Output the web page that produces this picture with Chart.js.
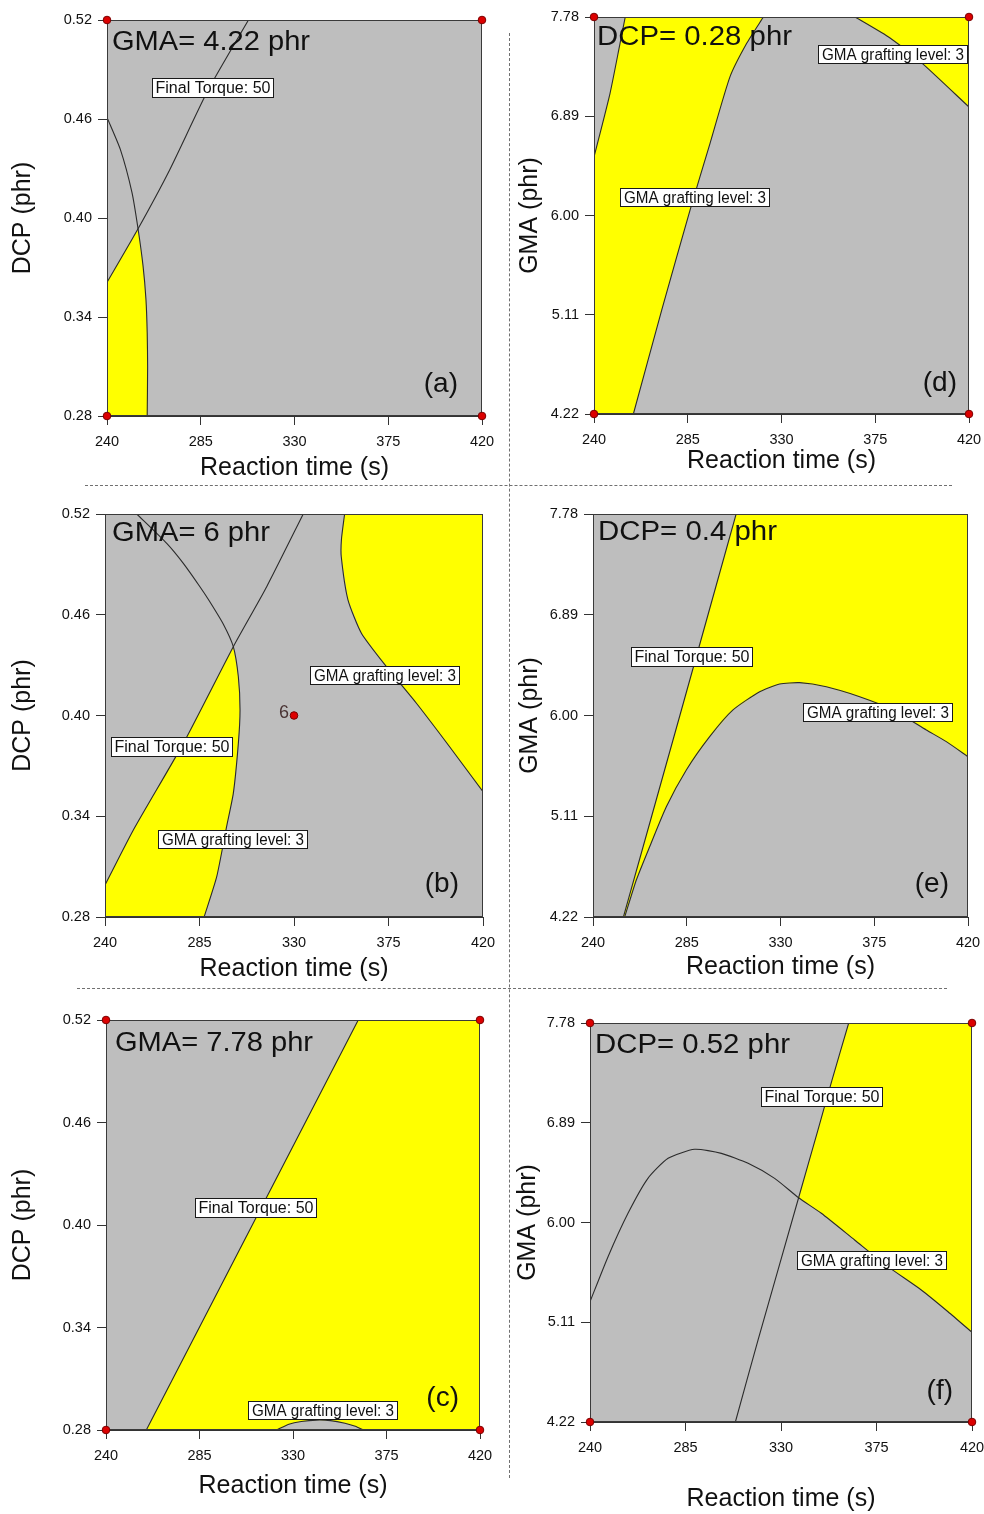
<!DOCTYPE html>
<html>
<head>
<meta charset="utf-8">
<title>Overlay plots</title>
<script src="https://cdn.jsdelivr.net/npm/chart.js@4.4.1/dist/chart.umd.min.js"></script>
<style>
  html, body { margin:0; padding:0; background:#fff; }
  #page { position:relative; width:984px; height:1514px; overflow:hidden; background:#fff; }
  #page canvas { position:absolute; }
  .dh { position:absolute; height:0; border-top:1px dashed #707070; }
  .dv { position:absolute; width:0; border-left:1px dashed #707070; }
</style>
</head>
<body>
<div id="page">
  <div class="dv" style="left:509px;top:33px;height:1445px"></div>
  <div class="dh" style="left:85px;top:485px;width:867px"></div>
  <div class="dh" style="left:77px;top:988px;width:870px"></div>
  <canvas id="pa"></canvas>
  <canvas id="pd"></canvas>
  <canvas id="pb"></canvas>
  <canvas id="pe"></canvas>
  <canvas id="pc"></canvas>
  <canvas id="pf"></canvas>
</div>
<script>
// ---------------- tick values / labels ----------------
const xTicks = [240, 285, 330, 375, 420];
const xTickLabels = ['240', '285', '330', '375', '420'];
const dcpTicks = [0.28, 0.34, 0.40, 0.46, 0.52];
const dcpTickLabels = ['0.28', '0.34', '0.40', '0.46', '0.52'];
const gmaTicks = [4.22, 5.11, 6.00, 6.89, 7.78];
const gmaTickLabels = ['4.22', '5.11', '6.00', '6.89', '7.78'];
const xTitle = 'Reaction time (s)';
const dcpTitle = 'DCP (phr)';
const gmaTitle = 'GMA (phr)';

const panelTitles = ['GMA= 4.22 phr', 'GMA= 6 phr', 'GMA= 7.78 phr', 'DCP= 0.28 phr', 'DCP= 0.4 phr', 'DCP= 0.52 phr'];
const panelTags = ['(a)', '(b)', '(c)', '(d)', '(e)', '(f)'];

// ---------------- (a) GMA = 4.22 ----------------
const aTorque = [[240, 0.361], [254.9, 0.3935], [270, 0.429], [288.7, 0.478], [307.9, 0.52]];
const aGraft = [[240, 0.461], [246.4, 0.4416], [252, 0.4154], [254.9, 0.3935], [257.3, 0.371], [258.7, 0.3507], [259.3, 0.3305], [259.5, 0.31], [259.3, 0.28]];
const aYellow = [[240, 0.28], [240, 0.361], [254.9, 0.3935], [257.3, 0.371], [258.7, 0.3507], [259.3, 0.3305], [259.5, 0.31], [259.3, 0.28]];
const aPoints = [[240, 0.28], [240, 0.52], [420, 0.28], [420, 0.52]];
const aLabels = [['Final Torque: 50', 290.6, 0.479]];

// ---------------- (b) GMA = 6 ----------------
const bTorque = [[240, 0.299], [253.5, 0.3318], [277.3, 0.3834], [301.1, 0.441], [317, 0.4767], [334.4, 0.52]];
const bGraftLeft = [[255.1, 0.52], [269.4, 0.5025], [277.3, 0.4906], [285.2, 0.4767], [289.7, 0.4682], [296.3, 0.4545], [301.1, 0.441], [303.5, 0.4231], [304.3, 0.4033], [303.5, 0.3834], [301.1, 0.3536], [297.9, 0.3338], [293.2, 0.304], [287.2, 0.28]];
const bGraftRight = [[354.1, 0.52], [352.6, 0.505], [352.5, 0.4947], [355.7, 0.4689], [362.1, 0.449], [374, 0.4291], [388.3, 0.4073], [404.1, 0.3814], [420, 0.3546]];
const bYellowLeft = [[240, 0.28], [240, 0.299], [253.5, 0.3318], [277.3, 0.3834], [301.1, 0.441], [303.5, 0.4231], [304.3, 0.4033], [303.5, 0.3834], [301.1, 0.3536], [297.9, 0.3338], [293.2, 0.304], [287.2, 0.28]];
const bYellowRight = [[354.1, 0.52], [352.6, 0.505], [352.5, 0.4947], [355.7, 0.4689], [362.1, 0.449], [374, 0.4291], [388.3, 0.4073], [404.1, 0.3814], [420, 0.3546], [420, 0.52]];
const bPoints = [[330, 0.40]];
const bPointNames = ['6'];
const bLabels = [['GMA grafting level: 3', 372.9, 0.4244], ['Final Torque: 50', 271.7, 0.3818], ['GMA grafting level: 3', 300.7, 0.3264]];

// ---------------- (c) GMA = 7.78 ----------------
const cTorque = [[259.4, 0.28], [311.9, 0.4035], [361.4, 0.52]];
const cYellow = [[259.4, 0.28], [361.4, 0.52], [420, 0.52], [420, 0.28]];
const cGraft = [[322, 0.28], [328, 0.2834], [334, 0.285], [341.3, 0.2858], [348, 0.2855], [355, 0.284], [360, 0.2822], [363.8, 0.28]];
const cPoints = [[240, 0.28], [240, 0.52], [420, 0.28], [420, 0.52]];
const cLabels = [['Final Torque: 50', 311.95, 0.41], ['GMA grafting level: 3', 343.96, 0.292]];

// ---------------- (d) DCP = 0.28 ----------------
const dBandLeft = [[240, 6.524], [247.7, 7.096], [252.5, 7.544], [255, 7.78]];
const dBandRight = [[258.9, 4.22], [272.5, 5.152], [286.1, 6.049], [295.7, 6.647], [305.3, 7.245], [313.3, 7.544], [321.3, 7.78]];
const dCorner = [[365.3, 7.78], [382.1, 7.592], [396.5, 7.382], [420, 6.973]];
const dYellowBand = [[240, 4.22], [258.9, 4.22], [272.5, 5.152], [286.1, 6.049], [295.7, 6.647], [305.3, 7.245], [313.3, 7.544], [321.3, 7.78], [255, 7.78], [252.5, 7.544], [247.7, 7.096], [240, 6.524]];
const dYellowCorner = [[365.3, 7.78], [382.1, 7.592], [396.5, 7.382], [420, 6.973], [420, 7.78]];
const dPoints = [[240, 4.22], [240, 7.78], [420, 4.22], [420, 7.78]];
const dLabels = [['GMA grafting level: 3', 383.3, 7.448], ['GMA grafting level: 3', 288.0, 6.166]];

// ---------------- (e) DCP = 0.4 ----------------
const eTorque = [[254.6, 4.22], [281.7, 6.0], [308.7, 7.78]];
const eGraft = [[255.2, 4.22], [260.8, 4.547], [267.2, 4.841], [275.2, 5.194], [284.8, 5.519], [296.0, 5.813], [307.2, 6.049], [320.0, 6.21], [329.6, 6.278], [339.2, 6.29], [352.0, 6.254], [368.0, 6.166], [384.0, 6.049], [400.0, 5.872], [409.6, 5.769], [420, 5.636]];
const eYellow = [[254.6, 4.22], [281.7, 6.0], [308.7, 7.78], [420, 7.78], [420, 5.636], [409.6, 5.769], [400.0, 5.872], [384.0, 6.049], [368.0, 6.166], [352.0, 6.254], [339.2, 6.29], [329.6, 6.278], [320.0, 6.21], [307.2, 6.049], [296.0, 5.813], [284.8, 5.519], [275.2, 5.194], [267.2, 4.841], [260.8, 4.547], [255.2, 4.22]];
const ePoints = [];
const eLabels = [['Final Torque: 50', 287.5, 6.517], ['GMA grafting level: 3', 376.6, 6.035]];

// ---------------- (f) DCP = 0.52 ----------------
const fTorque = [[308.5, 4.22], [319.2, 4.952], [338.3, 6.221], [347.4, 6.825], [354, 7.268], [361.9, 7.78]];
const fGraft = [[240, 5.293], [248.5, 5.695], [257.9, 6.082], [267.3, 6.394], [276.8, 6.573], [289.3, 6.653], [301.9, 6.617], [314.5, 6.528], [327.0, 6.394], [338.3, 6.221], [349.0, 6.082], [364.7, 5.844], [380.4, 5.606], [396.1, 5.398], [408.7, 5.204], [420, 5.02]];
const fYellow = [[338.3, 6.221], [347.4, 6.825], [354, 7.268], [361.9, 7.78], [420, 7.78], [420, 5.02], [408.7, 5.204], [396.1, 5.398], [380.4, 5.606], [364.7, 5.844], [349.0, 6.082]];
const fPoints = [[240, 4.22], [240, 7.78], [420, 4.22], [420, 7.78]];
const fLabels = [['Final Torque: 50', 349.1, 7.12], ['GMA grafting level: 3', 372.6, 5.665]];

// ---------------- styling ----------------
const GRAY = '#bebebe';
const YELLOW = '#ffff00';
const LINE = '#2b2b2b';
const FONT_SANS = '"Liberation Sans", Arial, "DejaVu Sans", sans-serif';

function fontExists(name) {
  const c = document.createElement('canvas').getContext('2d');
  const probe = '0123456789 abcdefgMWil';
  c.font = '40px monospace';
  const a = c.measureText(probe).width;
  c.font = '40px "' + name + '", monospace';
  const b = c.measureText(probe).width;
  return Math.abs(a - b) > 0.5;
}
const HAS_NARROW = fontExists('Liberation Sans Narrow');
const NARROW_FAMILY = HAS_NARROW ? '"Liberation Sans Narrow", ' + FONT_SANS : FONT_SANS;
const tickFont = HAS_NARROW ? { family: NARROW_FAMILY, size: 16 } : { family: FONT_SANS, size: 14.5 };
const TITLE_SIZE = 25;
const BOX_STYLE = {
  'Final Torque: 50': { w: 121, h: 19, pad: 6 },
  'GMA grafting level: 3': { w: 149, h: 18, pad: 7 }
};

const toXY = arr => arr.map(p => ({ x: p[0], y: p[1] }));

function fitText(ctx, text, x, y, font, targetW, align) {
  ctx.font = font;
  const w = ctx.measureText(text).width;
  const s = targetW ? targetW / w : 1;
  ctx.save();
  ctx.translate(x, y);
  ctx.scale(s, 1);
  ctx.textAlign = align || 'center';
  ctx.fillText(text, 0, 0);
  ctx.restore();
}

function makeOverlay(p) {
  return {
    id: 'overlay_' + p.id,
    beforeDatasetsDraw(chart) {
      const a = chart.chartArea, ctx = chart.ctx;
      ctx.save();
      ctx.fillStyle = GRAY;
      ctx.fillRect(a.left, a.top, a.right - a.left, a.bottom - a.top);
      ctx.restore();
    },
    beforeDatasetDraw(chart, args) {
      if (args.index !== 0) return;
      const a = chart.chartArea, ctx = chart.ctx;
      ctx.save();
      ctx.strokeStyle = '#3a3a3a';
      ctx.lineWidth = 1;
      ctx.strokeRect(Math.round(a.left) + 0.5, Math.round(a.top) + 0.5,
                     Math.round(a.right - a.left) - 1, Math.round(a.bottom - a.top) - 1);
      ctx.restore();
    },
    afterDatasetsDraw(chart) {
      const a = chart.chartArea, ctx = chart.ctx;
      const xs = chart.scales.x, ys = chart.scales.y;
      ctx.save();
      // boxed contour labels
      p.labels.forEach(([text, vx, vy]) => {
        const st = BOX_STYLE[text];
        const cx = xs.getPixelForValue(vx), cy = ys.getPixelForValue(vy);
        const l = Math.round(cx - st.w / 2) + 0.5, t = Math.round(cy - st.h / 2) + 0.5;
        ctx.fillStyle = '#ffffff';
        ctx.fillRect(l, t, st.w, st.h);
        ctx.strokeStyle = '#1a1a1a';
        ctx.lineWidth = 1;
        ctx.strokeRect(l, t, st.w, st.h);
        ctx.fillStyle = '#111';
        ctx.textBaseline = 'middle';
        fitText(ctx, text, l + st.w / 2, t + st.h / 2 + 1, '16px ' + NARROW_FAMILY, st.w - st.pad, 'center');
      });
      // run labels next to design points
      if (p.pointNames) {
        p.points.forEach((pt, i) => {
          const px = xs.getPixelForValue(pt[0]), py = ys.getPixelForValue(pt[1]);
          ctx.fillStyle = '#4a3434';
          ctx.textBaseline = 'alphabetic';
          ctx.textAlign = 'right';
          ctx.font = '18px ' + FONT_SANS;
          ctx.fillText(p.pointNames[i], px - 5, py + 2.5);
        });
      }
      // panel title
      ctx.fillStyle = '#111';
      ctx.textBaseline = 'alphabetic';
      fitText(ctx, p.title, a.left + p.titleOff[0], a.top + p.titleOff[1], '27px ' + FONT_SANS, p.titleW, 'left');
      // panel tag
      ctx.font = '28px ' + FONT_SANS;
      ctx.textAlign = 'right';
      ctx.fillText(p.tag, a.right - p.tagOff[0], a.bottom - p.tagOff[1]);
      ctx.restore();
    }
  };
}

function buildPanel(p) {
  const cv = document.getElementById(p.id);
  cv.width = p.canvas.w; cv.height = p.canvas.h;
  cv.style.left = p.canvas.l + 'px'; cv.style.top = p.canvas.t + 'px';
  cv.style.width = p.canvas.w + 'px'; cv.style.height = p.canvas.h + 'px';

  const yW = p.plot.l - p.canvas.l;
  const xH = p.canvas.t + p.canvas.h - p.plot.b;
  const padTop = p.plot.t - p.canvas.t;
  const padRight = p.canvas.l + p.canvas.w - p.plot.r;
  const tLH = TITLE_SIZE * 1.2;
  const xTitlePad = Math.max(0, p.canvas.t + p.canvas.h - p.xTitleY - tLH / 2);
  const yTitlePad = Math.max(0, p.yTitleX - p.canvas.l - tLH / 2);
  const tickLen = 9;
  const xTickPad = Math.max(0, 25.5 - tickLen - tickFont.size * 0.6);

  const isDcp = p.yKind === 'dcp';
  const yTicks = isDcp ? dcpTicks : gmaTicks;
  const yTickLabels = isDcp ? dcpTickLabels : gmaTickLabels;
  const yTitle = isDcp ? dcpTitle : gmaTitle;

  const datasets = [];
  datasets.push({
    label: 'Design points', data: toXY(p.points), showLine: false,
    pointRadius: 3.8, pointBackgroundColor: '#dc0000', pointBorderColor: '#7a0000',
    pointBorderWidth: 1, clip: false
  });
  p.lines.forEach((ln, i) => datasets.push({
    label: 'Contour ' + i, data: toXY(ln), showLine: true, fill: false,
    borderColor: LINE, borderWidth: 1.1, pointRadius: 0, tension: 0.2
  }));
  (p.gray || []).forEach((poly, i) => datasets.push({
    label: 'Gray ' + i, data: toXY(poly), showLine: true, fill: 'shape',
    backgroundColor: GRAY, borderColor: 'rgba(0,0,0,0)', borderWidth: 0, pointRadius: 0, tension: 0
  }));
  p.yellow.forEach((poly, i) => datasets.push({
    label: 'Sweet spot ' + i, data: toXY(poly), showLine: true, fill: 'shape',
    backgroundColor: YELLOW, borderColor: 'rgba(0,0,0,0)', borderWidth: 0, pointRadius: 0, tension: 0
  }));

  new Chart(cv, {
    type: 'scatter',
    data: { datasets },
    options: {
      responsive: false, devicePixelRatio: 1, animation: false, events: [],
      layout: { padding: { left: 0, top: padTop, right: padRight, bottom: 0 } },
      plugins: { legend: { display: false }, tooltip: { enabled: false }, title: { display: false } },
      scales: {
        x: {
          type: 'linear', position: 'bottom', min: 240, max: 420,
          afterBuildTicks: s => { s.ticks = xTicks.map(v => ({ value: v })); },
          afterFit: s => { s.height = xH; s.paddingLeft = 0; s.paddingRight = 0; },
          ticks: { callback: (v, i) => xTickLabels[i], font: tickFont, color: '#111', padding: xTickPad,
                   maxRotation: 0, minRotation: 0, autoSkip: false },
          grid: { display: true, drawOnChartArea: false, drawTicks: true, tickLength: tickLen, color: '#333', lineWidth: 1 },
          border: { display: true, color: '#333', width: 1 },
          title: { display: true, text: xTitle, color: '#111', font: { family: FONT_SANS, size: TITLE_SIZE },
                   padding: { top: 0, bottom: xTitlePad } }
        },
        y: {
          type: 'linear', position: 'left', min: yTicks[0], max: yTicks[yTicks.length - 1],
          afterBuildTicks: s => { s.ticks = yTicks.map(v => ({ value: v })); },
          afterFit: s => { s.width = yW; s.paddingTop = 0; s.paddingBottom = 0; },
          ticks: { callback: (v, i) => yTickLabels[i], font: tickFont, color: '#111', padding: 6, autoSkip: false },
          grid: { display: true, drawOnChartArea: false, drawTicks: true, tickLength: tickLen, color: '#333', lineWidth: 1 },
          border: { display: true, color: '#333', width: 1 },
          title: { display: true, text: yTitle, color: '#111', font: { family: FONT_SANS, size: TITLE_SIZE },
                   padding: { top: yTitlePad, bottom: 0 } }
        }
      }
    },
    plugins: [makeOverlay(p)]
  });
}

const panels = [
  { id: 'pa', canvas: { l: 0, t: 0, w: 500, h: 484 }, plot: { l: 107, t: 20, r: 482, b: 416 }, yKind: 'dcp',
    xTitleY: 468, yTitleX: 23, title: panelTitles[0], titleW: 198, titleOff: [5, 30], tag: panelTags[0], tagOff: [24, 24],
    yellow: [aYellow], lines: [aTorque, aGraft], points: aPoints, labels: aLabels },
  { id: 'pb', canvas: { l: 0, t: 490, w: 500, h: 498 }, plot: { l: 105, t: 514, r: 483, b: 917 }, yKind: 'dcp',
    xTitleY: 969, yTitleX: 23, title: panelTitles[1], titleW: 158, titleOff: [7, 27], tag: panelTags[1], tagOff: [24, 25],
    yellow: [bYellowLeft, bYellowRight], lines: [bTorque, bGraftLeft, bGraftRight], points: bPoints, pointNames: bPointNames, labels: bLabels },
  { id: 'pc', canvas: { l: 0, t: 988, w: 500, h: 526 }, plot: { l: 106, t: 1020, r: 480, b: 1430 }, yKind: 'dcp',
    xTitleY: 1486, yTitleX: 23, title: panelTitles[2], titleW: 198, titleOff: [9, 31], tag: panelTags[2], tagOff: [21, 24],
    yellow: [cYellow], gray: [cGraft], lines: [cTorque, cGraft], points: cPoints, labels: cLabels },
  { id: 'pd', canvas: { l: 505, t: 0, w: 479, h: 484 }, plot: { l: 594, t: 17, r: 969, b: 414 }, yKind: 'gma',
    xTitleY: 461, yTitleX: 530, title: panelTitles[3], titleW: 195, titleOff: [3, 28], tag: panelTags[3], tagOff: [12, 23],
    yellow: [dYellowBand, dYellowCorner], lines: [dBandLeft, dBandRight, dCorner], points: dPoints, labels: dLabels },
  { id: 'pe', canvas: { l: 505, t: 490, w: 479, h: 498 }, plot: { l: 593, t: 514, r: 968, b: 917 }, yKind: 'gma',
    xTitleY: 967, yTitleX: 530, title: panelTitles[4], titleW: 179, titleOff: [5, 26], tag: panelTags[4], tagOff: [19, 25],
    yellow: [eYellow], lines: [eTorque, eGraft], points: ePoints, labels: eLabels },
  { id: 'pf', canvas: { l: 505, t: 988, w: 479, h: 526 }, plot: { l: 590, t: 1023, r: 972, b: 1422 }, yKind: 'gma',
    xTitleY: 1499, yTitleX: 528, title: panelTitles[5], titleW: 195, titleOff: [5, 30], tag: panelTags[5], tagOff: [19, 23],
    yellow: [fYellow], lines: [fTorque, fGraft], points: fPoints, labels: fLabels }
];

panels.forEach(buildPanel);
</script>
</body>
</html>
